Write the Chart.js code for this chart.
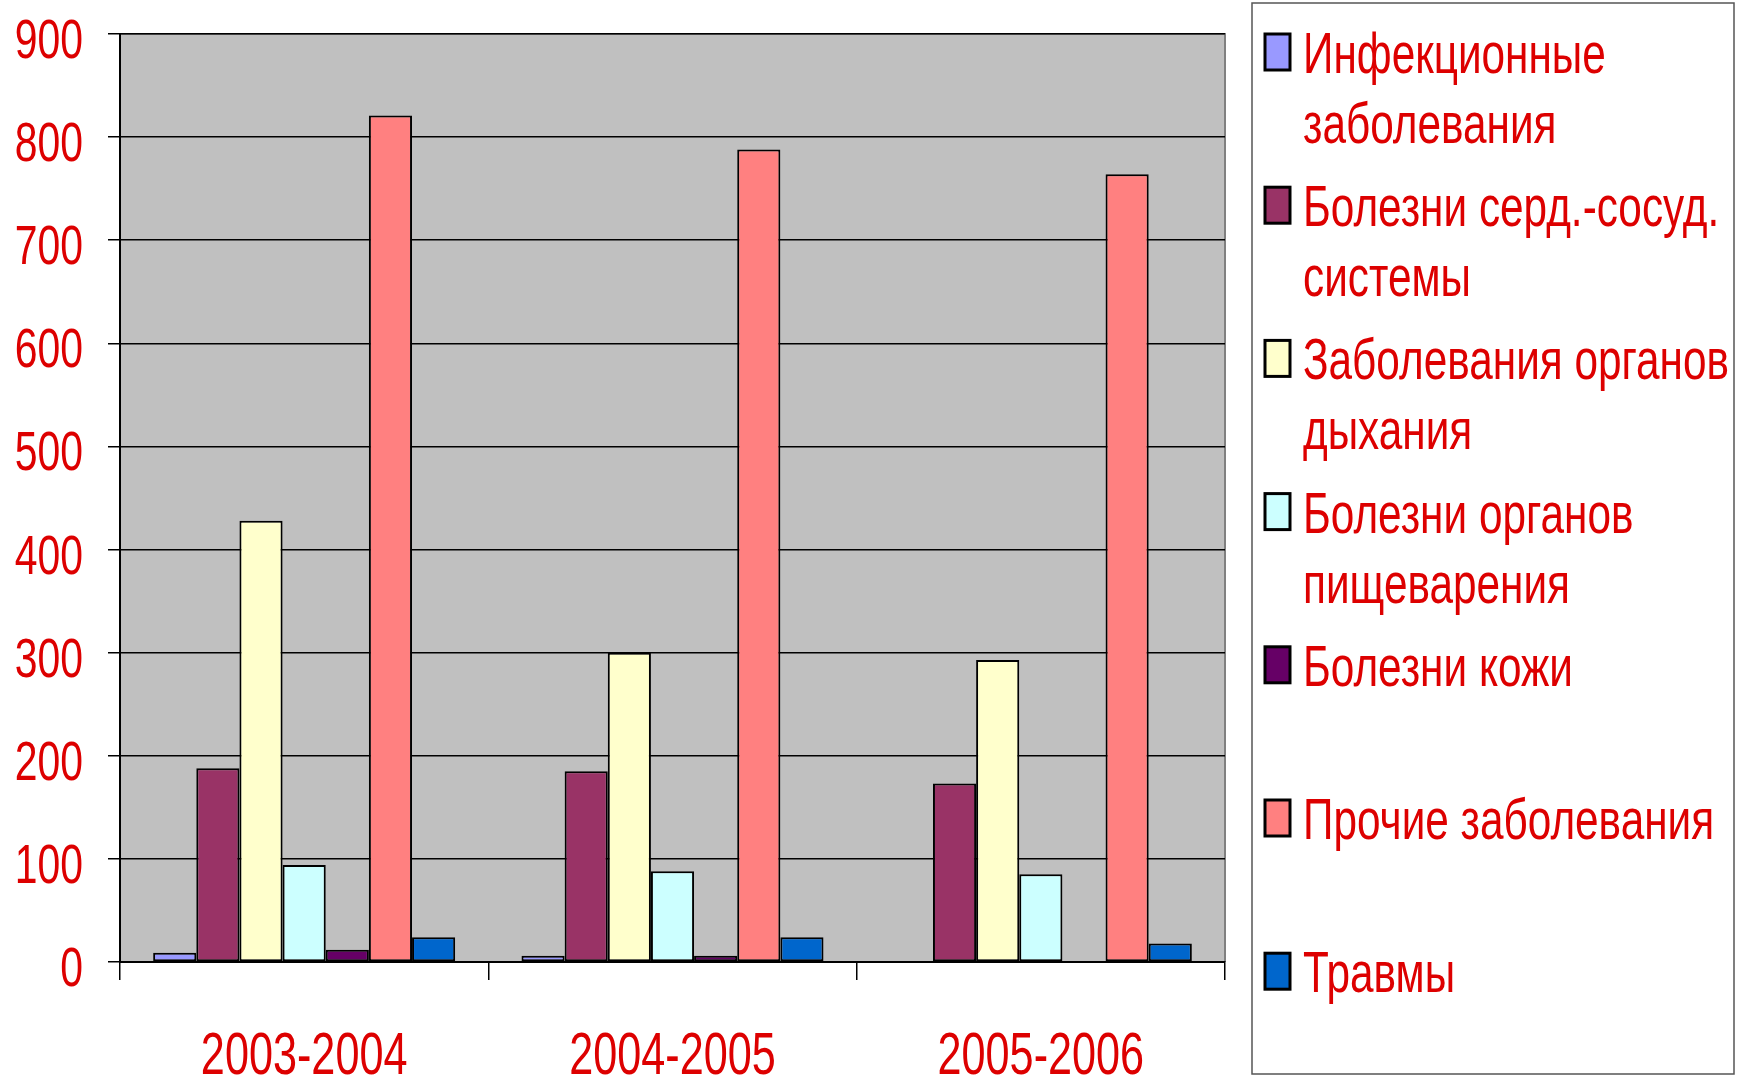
<!DOCTYPE html>
<html lang="ru">
    <head>
        <meta charset="UTF-8">
        <title>Заболеваемость</title>
        <script src="https://cdn.jsdelivr.net/npm/chart.js"></script>
        <style>
            body { margin: 0; background: #fff; overflow: hidden; }
        </style>
    </head>
    <body>
        <canvas id="diseaseChart" width="1737" height="1078"></canvas>

    <script>
        const categories = ['2003-2004', '2004-2005', '2005-2006'];
        const seriesNames = [
            'Инфекционные\nзаболевания',
            'Болезни серд.-сосуд.\nсистемы',
            'Заболевания органов\nдыхания',
            'Болезни органов\nпищеварения',
            'Болезни кожи',
            'Прочие заболевания',
            'Травмы'
        ];
        const infectious = [9, 6, 0];
        const cardio = [188, 185, 173];
        const respiratory = [428, 300, 293];
        const digestive = [94, 88, 85];
        const skin = [12, 6, 0];
        const other = [821, 788, 764];
        const injuries = [24, 24, 18];
        const yMax = 900;
        const yStep = 100;

        const seriesValues = [infectious, cardio, respiratory, digestive, skin, other, injuries];
        const colors = ['#9999ff', '#993366', '#ffffcc', '#ccffff', '#660066', '#ff8080', '#0066cc'];
        const red = '#dd0000';
        const font = "'Liberation Sans', Arial, sans-serif";

        // text in the original is a tall condensed face, so squeeze Arial sideways
        function squeezed(c, text, x, y, size, sx, align) {
            c.save();
            c.font = size + 'px ' + font;
            c.fillStyle = red;
            c.textBaseline = 'alphabetic';
            const w = c.measureText(text).width * sx;
            let left = x;
            if (align === 'right') left = x - w;
            if (align === 'center') left = x - w / 2;
            c.translate(left, y);
            c.scale(sx, 1);
            c.fillText(text, 0, 0);
            c.restore();
        }

        // grey plot area like the old Excel charts
        const plotBg = {
            id: 'plotBg',
            beforeDraw(chart) {
                const a = chart.chartArea, c = chart.ctx;
                c.save();
                c.fillStyle = '#c0c0c0';
                c.fillRect(a.left, a.top, a.right - a.left, a.bottom - a.top);
                c.strokeStyle = '#808080';
                c.lineWidth = 2;
                c.beginPath();
                c.moveTo(a.left, a.top);
                c.lineTo(a.right, a.top);
                c.lineTo(a.right, a.bottom);
                c.stroke();
                c.restore();
            }
        };

        // axis labels + legend box
        const labelsAndLegend = {
            id: 'labelsAndLegend',
            afterDraw(chart) {
                const c = chart.ctx;
                const ys = chart.scales.y, xs = chart.scales.x;
                ys.ticks.forEach(t => {
                    const py = ys.getPixelForValue(t.value);
                    squeezed(c, String(t.value), 83, py + 4 + 20, 56, 0.73, 'right');
                });
                xs.ticks.forEach((t, i) => {
                    const px = xs.getPixelForTick(i);
                    squeezed(c, categories[t.value], px, 1074, 60, 0.72, 'center');
                });

                // legend frame
                c.save();
                c.strokeStyle = '#555';
                c.lineWidth = 1.5;
                c.strokeRect(1252, 3, 482, 1071);
                c.restore();

                c.save();
                c.font = '58px ' + font;
                const sx = 426 / c.measureText('Заболевания органов').width;
                c.restore();

                chart.data.datasets.forEach((ds, i) => {
                    const capMid = 52 + i * 153.2;
                    c.save();
                    c.fillStyle = ds.backgroundColor;
                    c.fillRect(1265, capMid - 18, 25, 36);
                    c.strokeStyle = '#000';
                    c.lineWidth = 3;
                    c.strokeRect(1265, capMid - 18, 25, 36);
                    c.restore();
                    seriesNames[i].split('\n').forEach((line, j) => {
                        squeezed(c, line, 1303, capMid + j * 70 + 21, 58, sx, 'left');
                    });
                });
            }
        };

        const ctx = document.getElementById('diseaseChart').getContext('2d');
        const diseaseChart = new Chart(ctx, {
            type: 'bar',
            data: {
                labels: categories,
                datasets: seriesNames.map((name, i) => ({
                    label: name.replace('\n', ' '),
                    data: seriesValues[i],
                    backgroundColor: colors[i],
                    borderColor: '#000',
                    borderWidth: 2,
                    borderSkipped: false,
                    categoryPercentage: 0.82,
                    barPercentage: 1.0
                }))
            },
            options: {
                responsive: false,
                animation: false,
                layout: { padding: { top: 34, right: 512, left: 0, bottom: 0 } },
                plugins: {
                    legend: { display: false },
                    tooltip: { enabled: false }
                },
                scales: {
                    x: {
                        grid: { drawOnChartArea: false, drawTicks: true, tickLength: 18, color: '#000', lineWidth: 1.5 },
                        border: { color: '#000', width: 2 },
                        ticks: { display: false },
                        afterFit: s => { s.height = 116; }
                    },
                    y: {
                        min: 0,
                        max: yMax,
                        ticks: { stepSize: yStep, display: false },
                        grid: { color: '#000', lineWidth: 1.5, tickLength: 12 },
                        border: { color: '#000', width: 2 },
                        afterFit: s => { s.width = 120; }
                    }
                }
            },
            plugins: [plotBg, labelsAndLegend]
        });
    </script>
    </body>
</html>
